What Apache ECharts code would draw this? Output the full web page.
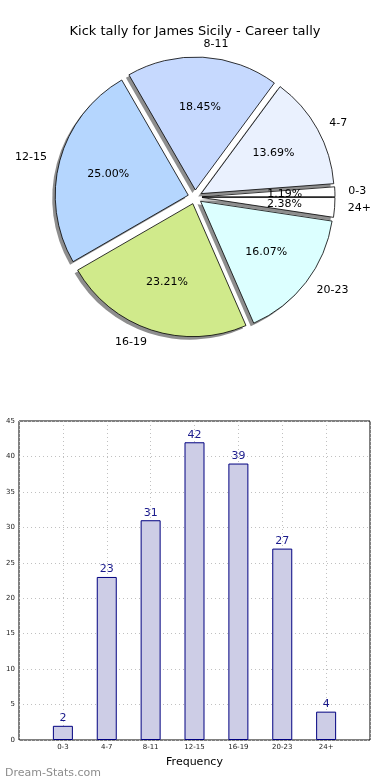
<!DOCTYPE html>
<html>
<head>
<meta charset="utf-8">
<script src="https://cdn.jsdelivr.net/npm/echarts@6/dist/echarts.min.js"></script>
<style>
html,body{margin:0;padding:0;background:#fff;}
#c{width:390px;height:780px;}
</style>
</head>
<body>
<div id="c"></div>
<script>
var categories = ['0-3', '4-7', '8-11', '12-15', '16-19', '20-23', '24+'];
var kicks = [2, 23, 31, 42, 39, 27, 4];
var sliceColors = ['#ffffff', '#eaf1fe', '#c6d9fe', '#b5d6fe', '#d0ea8b', '#dcffff', '#ffffff'];
var yTicks = [0, 5, 10, 15, 20, 25, 30, 35, 40, 45];

var FONT = 'DejaVu Sans';
var R = 133;
var CX = 195, CY = 197;
var OFF = 7;
var total = kicks.reduce(function (a, b) { return a + b; }, 0);

function pieItems(withColor) {
  return categories.map(function (c, i) {
    var d = { name: c, value: kicks[i], selected: true };
    if (withColor) d.itemStyle = { color: sliceColors[i] };
    return d;
  });
}

var commonPie = {
  type: 'pie',
  radius: R,
  startAngle: 0,
  clockwise: false,
  selectedMode: 'multiple',
  selectedOffset: OFF,
  avoidLabelOverlap: false,
  emphasis: { disabled: true },
  labelLayout: { hideOverlap: false }
};

var chart = echarts.init(document.getElementById('c'), null, { renderer: 'canvas' });
chart.setOption({
  animation: false,
  backgroundColor: '#fff',
  title: [{
    text: 'Kick tally for James Sicily - Career tally',
    left: 'center', top: 20,
    textStyle: { fontFamily: FONT, fontSize: 13, fontWeight: 'normal', color: '#000' }
  }, {
    text: 'Dream-Stats.com',
    left: 0, top: 763,
    textStyle: { fontFamily: FONT, fontSize: 11, fontWeight: 'normal', color: '#8c8c8c' }
  }],
  grid: {
    left: 19, right: 20, top: 421, bottom: 40,
    show: true, borderColor: '#000', borderWidth: 1, backgroundColor: 'transparent'
  },
  xAxis: {
    type: 'value', min: 0, max: categories.length + 1, interval: 1,
    name: 'Frequency', nameLocation: 'middle', nameGap: 17,
    nameTextStyle: { fontFamily: FONT, fontSize: 11, color: '#000' },
    axisLine: { show: false },
    axisTick: { show: false },
    axisLabel: {
      fontFamily: FONT, fontSize: 7, color: '#222', margin: 4,
      formatter: function (v) { return categories[v - 1] || ''; }
    },
    splitLine: { show: true, lineStyle: { color: '#c0c0c0', type: [1, 3], width: 1 } }
  },
  yAxis: {
    type: 'value', min: yTicks[0], max: yTicks[yTicks.length - 1], interval: yTicks[1] - yTicks[0],
    axisLine: { show: false },
    axisTick: { show: false },
    axisLabel: { fontFamily: FONT, fontSize: 7, color: '#222', margin: 4 },
    splitLine: { show: true, lineStyle: { color: '#c0c0c0', type: [1, 3], width: 1 } }
  },
  series: [
    Object.assign({}, commonPie, {
      center: [CX - 3, CY + 3],
      silent: true,
      data: pieItems(false),
      itemStyle: { color: '#8e8e8e', borderWidth: 0 },
      select: { itemStyle: { color: '#8e8e8e', borderWidth: 0 } },
      label: { show: false },
      labelLine: { show: false }
    }),
    Object.assign({}, commonPie, {
      center: [CX, CY],
      data: pieItems(true),
      itemStyle: { borderColor: '#000', borderWidth: 0.8 },
      select: { itemStyle: { borderColor: '#000', borderWidth: 0.8 } },
      label: {
        show: true, position: 'outside', fontFamily: FONT, fontSize: 11, color: '#000',
        distanceToLabelLine: 0, formatter: '{b}'
      },
      labelLine: { show: false, length: R * 0.1, length2: 0 }
    }),
    Object.assign({}, commonPie, {
      center: [CX, CY],
      radius: [R * 0.2, R],
      silent: true,
      data: pieItems(false),
      itemStyle: { color: 'rgba(0,0,0,0)', borderWidth: 0 },
      select: { itemStyle: { color: 'rgba(0,0,0,0)', borderWidth: 0 } },
      label: {
        show: true, position: 'inside', fontFamily: FONT, fontSize: 11, color: '#000',
        formatter: function (p) { return (p.value / total * 100).toFixed(2) + '%'; }
      },
      labelLine: { show: false }
    }),
    {
      type: 'bar',
      barWidth: 20,
      data: kicks.map(function (v, i) { return [i + 1, v]; }),
      itemStyle: { color: '#cdcde6', borderColor: '#000080', borderWidth: 1 },
      label: {
        show: true, position: 'top', distance: 2,
        fontFamily: FONT, fontSize: 11, color: '#1a1a8c',
        formatter: function (p) { return p.value[1]; }
      }
    }
  ]
});
</script>
</body>
</html>
